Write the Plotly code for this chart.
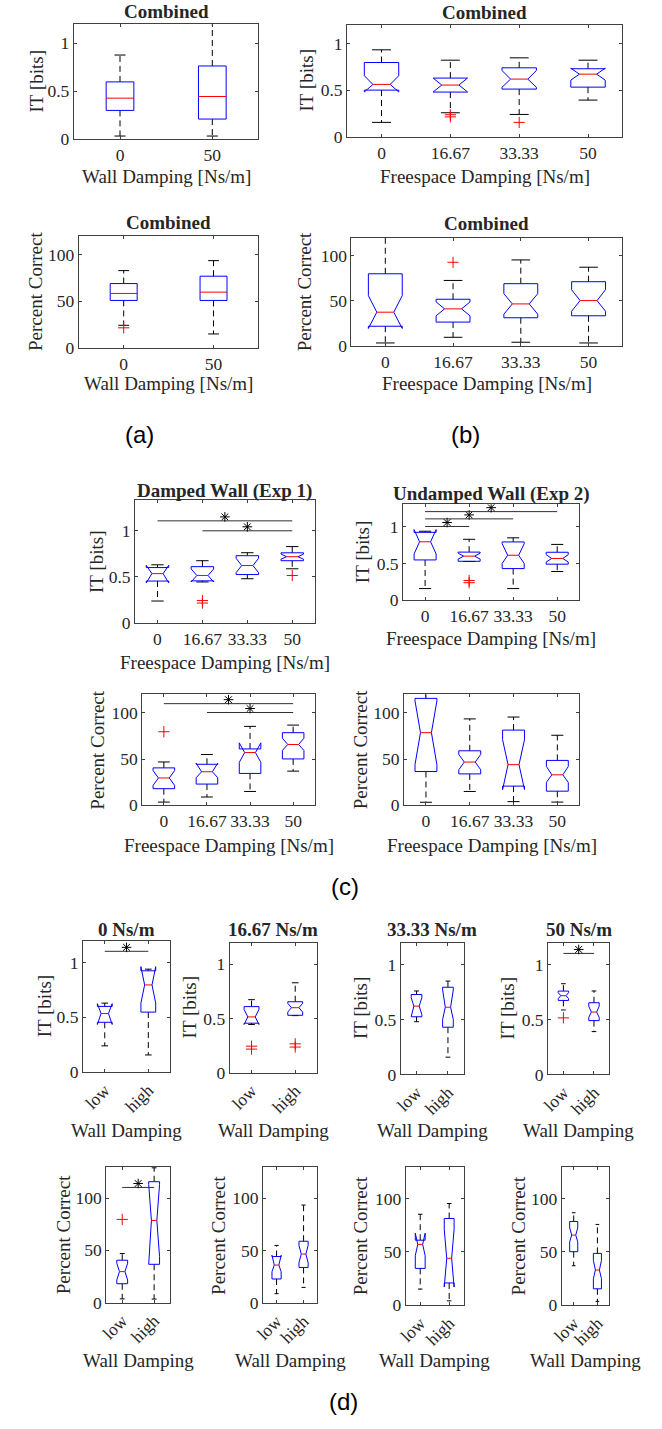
import plotly.graph_objects as go

W, H = 662, 1429
SERIF = "Liberation Serif"
SANS = "Liberation Sans"
TXT = "#262626"
AXC = "#404040"
TICK = 17.5
LAB = 19

# ---------------- categories ----------------
WALL_CATS = ["0", "50"]
FREE_CATS = ["0", "16.67", "33.33", "50"]
LEVEL_CATS = ["low", "high"]
SPEED_TITLES = ["0 Ns/m", "16.67 Ns/m", "33.33 Ns/m", "50 Ns/m"]

# ---------------- (a) combined, by wall damping ----------------
a_it_lo = [0.031, 0.031]
a_it_q1 = [0.298, 0.208]
a_it_med = [0.426, 0.443]
a_it_q3 = [0.595, 0.761]
a_it_hi = [0.875, 1.25]
a_it_out = [[], []]

a_pc_lo = [24.2, 14.9]
a_pc_q1 = [50.9, 50.9]
a_pc_med = [58.4, 59.8]
a_pc_q3 = [69.0, 76.9]
a_pc_hi = [82.9, 93.6]
a_pc_out = [[21.5], []]

# ---------------- (b) combined, by freespace damping ----------------
b_it_lo = [0.154, 0.257, 0.239, 0.393]
b_it_q1 = [0.50, 0.479, 0.511, 0.532]
b_it_nlo = [0.48, 0.48, 0.53, 0.607]
b_it_med = [0.561, 0.554, 0.618, 0.671]
b_it_nhi = [0.654, 0.63, 0.71, 0.735]
b_it_q3 = [0.796, 0.629, 0.739, 0.729]
b_it_hi = [0.932, 0.821, 0.846, 0.821]
b_it_out = [[], [0.236, 0.213], [0.154], []]

b_pc_lo = [2.9, 9.2, 3.7, 2.9]
b_pc_q1 = [21.5, 26.1, 30.9, 33.1]
b_pc_nlo = [19.0, 33.1, 34.9, 38.2]
b_pc_med = [37.1, 40.8, 46.3, 50.0]
b_pc_nhi = [55.5, 48.5, 57.7, 62.1]
b_pc_q3 = [79.8, 51.5, 68.8, 71.0]
b_pc_hi = [125.0, 72.4, 95.2, 87.1]
b_pc_out = [[], [92.6], [], []]

# ---------------- Exp 1 (damped wall = "low") ----------------
e1_it_lo = [0.24, 0.445, 0.48, 0.587]
e1_it_q1 = [0.455, 0.457, 0.525, 0.674]
e1_it_nlo = [0.435, 0.445, 0.545, 0.69]
e1_it_med = [0.535, 0.515, 0.622, 0.717]
e1_it_nhi = [0.625, 0.585, 0.70, 0.745]
e1_it_q3 = [0.60, 0.61, 0.728, 0.759]
e1_it_hi = [0.63, 0.674, 0.76, 0.826]
e1_it_out = [[], [0.245, 0.218], [], [0.515]]

e1_pc_lo = [3.5, 9.0, 15.0, 37.0]
e1_pc_q1 = [18.0, 23.0, 34.5, 50.2]
e1_pc_nlo = [21.6, 29.9, 46.5, 59.4]
e1_pc_med = [29.6, 36.3, 57.1, 65.8]
e1_pc_nhi = [37.6, 45.6, 67.6, 72.6]
e1_pc_q3 = [40.5, 44.4, 61.0, 78.6]
e1_pc_hi = [46.9, 55.0, 85.4, 86.8]
e1_pc_out = [[79.6], [], [], []]

# ---------------- Exp 2 (undamped wall = "high") ----------------
e2_it_lo = [0.157, 0.527, 0.157, 0.39]
e2_it_q1 = [0.548, 0.53, 0.43, 0.49]
e2_it_nlo = [0.63, 0.56, 0.50, 0.52]
e2_it_med = [0.796, 0.60, 0.612, 0.568]
e2_it_nhi = [0.963, 0.64, 0.77, 0.62]
e2_it_q3 = [0.925, 0.655, 0.794, 0.653]
e2_it_hi = [0.94, 0.83, 0.85, 0.76]
e2_it_out = [[], [0.267, 0.237], [], []]

e2_pc_lo = [3.3, 15.0, 4.0, 3.5]
e2_pc_q1 = [36.6, 34.0, 20.8, 15.3]
e2_pc_nlo = [44.0, 38.5, 17.0, 24.8]
e2_pc_med = [78.6, 46.8, 44.0, 33.0]
e2_pc_nhi = [113.0, 55.0, 71.0, 42.0]
e2_pc_q3 = [115.7, 59.0, 81.4, 48.6]
e2_pc_hi = [129.0, 93.5, 95.5, 75.8]
e2_pc_out = [[], [], [], []]

# ---------------- significance bars ----------------
c_it1_sig_pairs = [(0, 3), (1, 3)]
c_it1_sig_y = [1.103, 0.996]
c_it2_sig_pairs = [(0, 1), (0, 2), (0, 3)]
c_it2_sig_y = [1.005, 1.109, 1.208]
c_pc1_sig_pairs = [(0, 3), (1, 3)]
c_pc1_sig_y = [110.0, 100.4]
d_it_sig_idx = [0, 3]
d_it_sig_y = [1.103, 1.102]
d_pc_sig_idx = [0]
d_pc_sig_y = [110.2]

fig = go.Figure()
_count = [0]
annots = []


def new_axes(box, yrange, ytickvals, cats, tickangle=0):
    _count[0] += 1
    n = _count[0]
    sfx = "" if n == 1 else str(n)
    l, r, t, b = box
    common = dict(showline=True, linecolor=AXC, linewidth=1, mirror="ticks",
                  ticks="inside", ticklen=3, tickcolor=AXC, tickwidth=1,
                  showgrid=False, zeroline=False,
                  tickfont=dict(family=SERIF, size=TICK, color=TXT))
    fig.update_layout({
        f"xaxis{sfx}": dict(domain=[l / W, r / W], anchor=f"y{sfx}",
                            range=[0.5, len(cats) + 0.5], tickmode="array",
                            tickvals=list(range(1, len(cats) + 1)), ticktext=cats,
                            tickangle=tickangle, **common),
        f"yaxis{sfx}": dict(domain=[1 - b / H, 1 - t / H], anchor=f"x{sfx}",
                            range=list(yrange), tickmode="array",
                            tickvals=ytickvals, **common),
    })
    px_per_unit = (b - t) / (yrange[1] - yrange[0])
    return dict(x=f"x{sfx}", y=f"y{sfx}", ppu=px_per_unit)


def line(ax, xs, ys, color, dash="solid", width=1):
    fig.add_trace(go.Scatter(x=xs, y=ys, mode="lines", xaxis=ax["x"], yaxis=ax["y"],
                             line=dict(color=color, width=width, dash=dash),
                             hoverinfo="skip", showlegend=False))


def add_boxes(ax, lo, q1, med, q3, hi, out, nlo=None, nhi=None, width=0.5, capfrac=0.55):
    hw = width / 2
    cw = hw * capfrac
    iw = hw / 2
    for i in range(len(q1)):
        x = i + 1
        # whiskers
        line(ax, [x, x, None, x, x], [q3[i], hi[i], None, q1[i], lo[i]], "black", dash="6px,4px")
        # caps
        line(ax, [x - cw, x + cw, None, x - cw, x + cw], [hi[i], hi[i], None, lo[i], lo[i]], "black")
        # box
        if nlo is None:
            bx = [x - hw, x + hw, x + hw, x - hw, x - hw]
            by = [q1[i], q1[i], q3[i], q3[i], q1[i]]
            mx = [x - hw, x + hw]
        else:
            bx = [x - hw, x + hw, x + hw, x + iw, x + hw, x + hw, x - hw, x - hw, x - iw, x - hw, x - hw]
            by = [q1[i], q1[i], nlo[i], med[i], nhi[i], q3[i], q3[i], nhi[i], med[i], nlo[i], q1[i]]
            mx = [x - iw, x + iw]
        line(ax, bx, by, "#0000ff")
        line(ax, mx, [med[i], med[i]], "#ff0000")
        if out[i]:
            fig.add_trace(go.Scatter(x=[x] * len(out[i]), y=out[i], mode="markers",
                                     xaxis=ax["x"], yaxis=ax["y"], cliponaxis=True,
                                     marker=dict(symbol="cross-thin", size=8, color="#ff0000",
                                                 line=dict(color="#ff0000", width=1)),
                                     hoverinfo="skip", showlegend=False))


def add_sig(ax, pairs, levels):
    for (i, j), yv in zip(pairs, levels):
        line(ax, [i + 1, j + 1], [yv, yv], "#303030")
        fig.add_trace(go.Scatter(x=[(i + j) / 2 + 1], y=[yv + 4.0 / ax["ppu"]], mode="markers",
                                 xaxis=ax["x"], yaxis=ax["y"],
                                 marker=dict(symbol="asterisk-open", size=8, color="black",
                                             line=dict(color="black", width=1)),
                                 hoverinfo="skip", showlegend=False))


def text(x, y, s, size=LAB, bold=False, angle=0, family=SERIF):
    annots.append(dict(x=x / W, y=1 - y / H, xref="paper", yref="paper",
                       text=f"<b>{s}</b>" if bold else s, showarrow=False,
                       textangle=angle, xanchor="center", yanchor="middle",
                       font=dict(family=family, size=size, color=TXT if family == SERIF else "black")))


# ---------------- (a) ----------------
ax = new_axes((63, 251, 24, 140), (0, 1.2), [0, 0.5, 1], WALL_CATS)
add_boxes(ax, a_it_lo, a_it_q1, a_it_med, a_it_q3, a_it_hi, a_it_out, width=0.3, capfrac=0.4)
text(157, 11.5, "Combined", bold=True)
text(157, 178, "Wall Damping [Ns/m]")
text(24.5, 82, "IT [bits]", angle=-90)

ax = new_axes((68, 251, 237.7, 350.3), (0, 120), [0, 50, 100], WALL_CATS)
add_boxes(ax, a_pc_lo, a_pc_q1, a_pc_med, a_pc_q3, a_pc_hi, a_pc_out, width=0.3, capfrac=0.4)
text(159.5, 224.5, "Combined", bold=True)
text(159.5, 386, "Wall Damping [Ns/m]")
text(24.5, 294, "Percent Correct", angle=-90)

# ---------------- (b) ----------------
ax = new_axes((341.3, 621.7, 25, 137.7), (0, 1.2), [0, 0.5, 1], FREE_CATS)
add_boxes(ax, b_it_lo, b_it_q1, b_it_med, b_it_q3, b_it_hi, b_it_out, b_it_nlo, b_it_nhi)
text(481.5, 13, "Combined", bold=True)
text(481.5, 178, "Freespace Damping [Ns/m]")
text(300, 81.5, "IT [bits]", angle=-90)

ax = new_axes((345.7, 621.7, 239.3, 348), (0, 120), [0, 50, 100], FREE_CATS)
add_boxes(ax, b_pc_lo, b_pc_q1, b_pc_med, b_pc_q3, b_pc_hi, b_pc_out, b_pc_nlo, b_pc_nhi)
text(483.7, 225.5, "Combined", bold=True)
text(483.7, 386.5, "Freespace Damping [Ns/m]")
text(298.3, 293.5, "Percent Correct", angle=-90)

# ---------------- (c) ----------------
ax = new_axes((125.3, 308.3, 503.3, 627.7), (0, 1.33), [0, 0.5, 1], FREE_CATS)
add_boxes(ax, e1_it_lo, e1_it_q1, e1_it_med, e1_it_q3, e1_it_hi, e1_it_out, e1_it_nlo, e1_it_nhi)
add_sig(ax, c_it1_sig_pairs, c_it1_sig_y)
text(216.8, 494, "Damped Wall (Exp 1)", bold=True)
text(216.8, 667.5, "Freespace Damping [Ns/m]")
text(85.5, 566, "IT [bits]", angle=-90)

ax = new_axes((398.3, 577.7, 507.7, 604.3), (0, 1.31), [0, 0.5, 1], FREE_CATS)
add_boxes(ax, e2_it_lo, e2_it_q1, e2_it_med, e2_it_q3, e2_it_hi, e2_it_out, e2_it_nlo, e2_it_nhi)
add_sig(ax, c_it2_sig_pairs, c_it2_sig_y)
text(488, 497, "Undamped Wall (Exp 2)", bold=True)
text(488, 643.3, "Freespace Damping [Ns/m]")
text(356.5, 556, "IT [bits]", angle=-90)

ax = new_axes((132.7, 308.3, 699.3, 811), (0, 120), [0, 50, 100], FREE_CATS)
add_boxes(ax, e1_pc_lo, e1_pc_q1, e1_pc_med, e1_pc_q3, e1_pc_hi, e1_pc_out, e1_pc_nlo, e1_pc_nhi)
add_sig(ax, c_pc1_sig_pairs, c_pc1_sig_y)
text(220.5, 851.5, "Freespace Damping [Ns/m]")
text(87.5, 755, "Percent Correct", angle=-90)

ax = new_axes((399.3, 577.7, 699.3, 811), (0, 120), [0, 50, 100], FREE_CATS)
add_boxes(ax, e2_pc_lo, e2_pc_q1, e2_pc_med, e2_pc_q3, e2_pc_hi, e2_pc_out, e2_pc_nlo, e2_pc_nhi)
text(488.5, 851.5, "Freespace Damping [Ns/m]")
text(355, 755, "Percent Correct", angle=-90)

# ---------------- (d) ----------------
d_top_boxes = [(72.3, 161, 947.3, 1079.7), (221.7, 310.7, 949.3, 1080.3),
               (396, 460, 949.3, 1082), (546, 608.3, 949.3, 1082)]
d_top_ylab = [32.5, 181, 355, 505]
d_bot_boxes = [(96, 161, 1175, 1311.7), (255.7, 310.7, 1175, 1312.3),
               (401, 460, 1175, 1314.3), (560, 608.3, 1175, 1314.3)]
d_bot_ylab = [52.5, 210.8, 355.8, 515.8]

for j in range(4):
    l, r, t, b = d_top_boxes[j]
    ax = new_axes(d_top_boxes[j], (0, 1.2), [0, 0.5, 1], LEVEL_CATS, tickangle=-45)
    add_boxes(ax,
              [e1_it_lo[j], e2_it_lo[j]], [e1_it_q1[j], e2_it_q1[j]],
              [e1_it_med[j], e2_it_med[j]], [e1_it_q3[j], e2_it_q3[j]],
              [e1_it_hi[j], e2_it_hi[j]], [e1_it_out[j], e2_it_out[j]],
              [e1_it_nlo[j], e2_it_nlo[j]], [e1_it_nhi[j], e2_it_nhi[j]],
              width=0.34, capfrac=0.45)
    if j in d_it_sig_idx:
        add_sig(ax, [(0, 1)], [d_it_sig_y[d_it_sig_idx.index(j)]])
    text((l + r) / 2, 936.5, SPEED_TITLES[j], bold=True)
    text((l + r) / 2, 1138.5, "Wall Damping")
    text(d_top_ylab[j], (t + b) / 2, "IT [bits]", angle=-90)

for j in range(4):
    l, r, t, b = d_bot_boxes[j]
    ax = new_axes(d_bot_boxes[j], (0, 130), [0, 50, 100], LEVEL_CATS, tickangle=-45)
    add_boxes(ax,
              [e1_pc_lo[j], e2_pc_lo[j]], [e1_pc_q1[j], e2_pc_q1[j]],
              [e1_pc_med[j], e2_pc_med[j]], [e1_pc_q3[j], e2_pc_q3[j]],
              [e1_pc_hi[j], e2_pc_hi[j]], [e1_pc_out[j], e2_pc_out[j]],
              [e1_pc_nlo[j], e2_pc_nlo[j]], [e1_pc_nhi[j], e2_pc_nhi[j]],
              width=0.34, capfrac=0.45)
    if j in d_pc_sig_idx:
        add_sig(ax, [(0, 1)], [d_pc_sig_y[d_pc_sig_idx.index(j)]])
    text((l + r) / 2, 1370.5, "Wall Damping")
    text(d_bot_ylab[j], (t + b) / 2, "Percent Correct", angle=-90)

# panel labels
text(130, 438, "(a)", size=24, family=SANS)
text(462, 438, "(b)", size=24, family=SANS)
text(339, 893, "(c)", size=24, family=SANS)
text(338, 1411, "(d)", size=24, family=SANS)

fig.update_layout(width=W, height=H, margin=dict(l=0, r=0, t=0, b=0),
                  paper_bgcolor="white", plot_bgcolor="white", showlegend=False,
                  font=dict(family=SERIF, color=TXT), annotations=annots)

fig.write_html("out.html", config={"displayModeBar": False})
